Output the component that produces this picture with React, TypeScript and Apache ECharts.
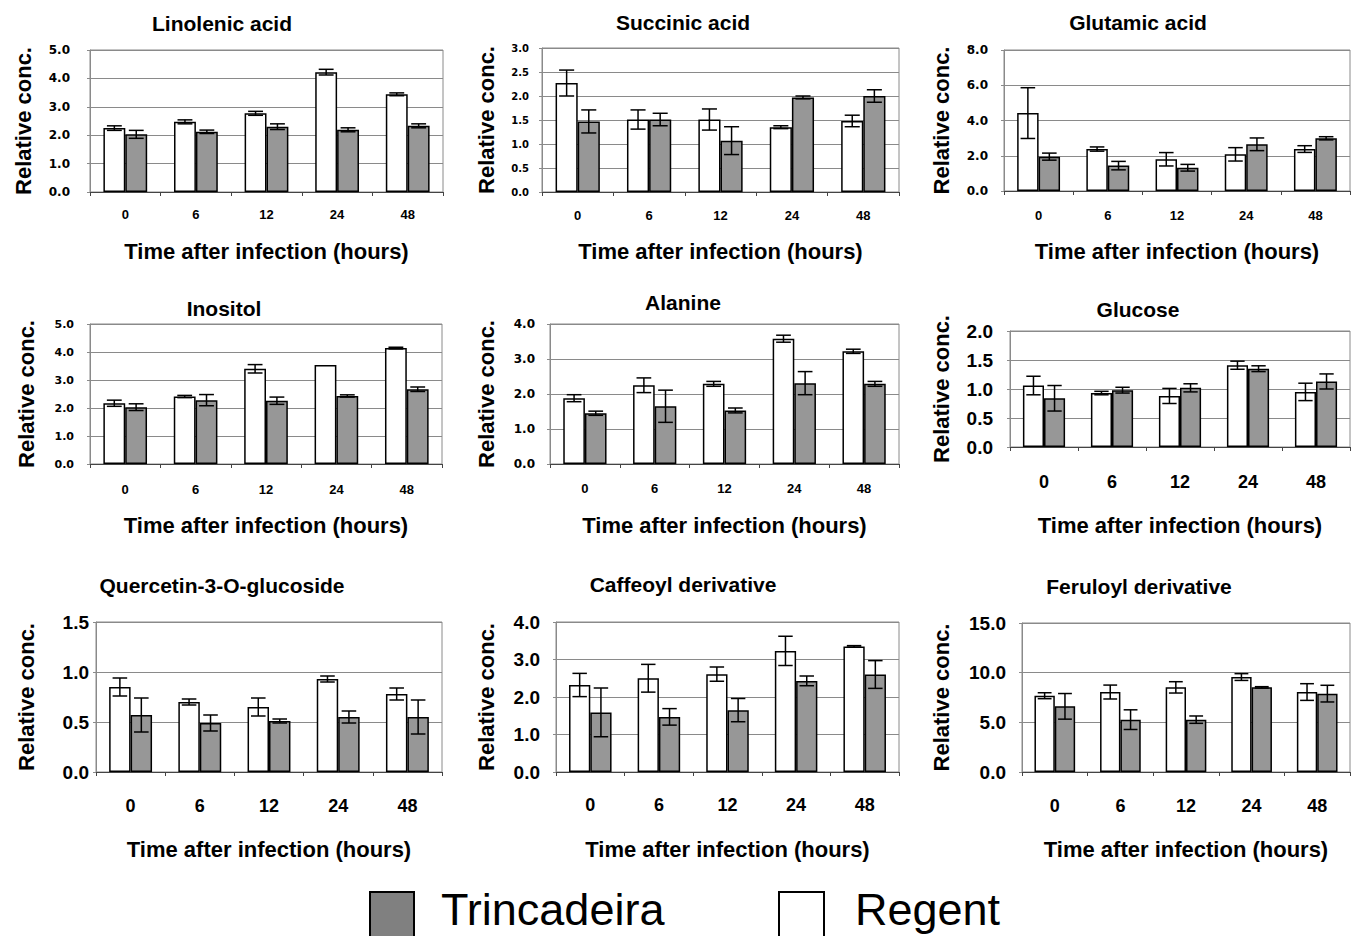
import React, { useEffect, useRef } from "react";
import * as echarts from "echarts";

// ---------- data ----------
const hours = ["0", "6", "12", "24", "48"];

const linolenicRegent = [2.25, 2.47, 2.77, 4.22, 3.44];
const linolenicRegentErr = [0.08, 0.07, 0.07, 0.1, 0.05];
const linolenicTrinc = [2.03, 2.12, 2.3, 2.19, 2.33];
const linolenicTrincErr = [0.14, 0.06, 0.1, 0.07, 0.07];

const succinicRegent = [2.27, 1.51, 1.51, 1.35, 1.48];
const succinicRegentErr = [0.27, 0.2, 0.22, 0.03, 0.12];
const succinicTrinc = [1.47, 1.51, 1.07, 1.97, 2.0];
const succinicTrincErr = [0.24, 0.13, 0.29, 0.03, 0.13];

const glutamicRegent = [4.42, 2.38, 1.8, 2.08, 2.38];
const glutamicRegentErr = [1.44, 0.12, 0.38, 0.38, 0.19];
const glutamicTrinc = [1.95, 1.44, 1.32, 2.65, 2.99];
const glutamicTrincErr = [0.2, 0.24, 0.19, 0.36, 0.09];

const inositolRegent = [2.17, 2.41, 3.4, 3.54, 4.14];
const inositolRegentErr = [0.11, 0.04, 0.15, 0, 0.03];
const inositolTrinc = [2.03, 2.28, 2.26, 2.43, 2.67];
const inositolTrincErr = [0.12, 0.2, 0.13, 0.04, 0.08];

const alanineRegent = [1.88, 2.25, 2.29, 3.58, 3.22];
const alanineRegentErr = [0.1, 0.21, 0.07, 0.1, 0.06];
const alanineTrinc = [1.45, 1.65, 1.53, 2.31, 2.29];
const alanineTrincErr = [0.06, 0.46, 0.07, 0.33, 0.07];

const glucoseRegent = [1.06, 0.93, 0.88, 1.41, 0.95];
const glucoseRegentErr = [0.16, 0.03, 0.13, 0.07, 0.15];
const glucoseTrinc = [0.84, 0.98, 1.02, 1.35, 1.13];
const glucoseTrincErr = [0.22, 0.05, 0.07, 0.05, 0.13];

const quercetinRegent = [0.85, 0.7, 0.65, 0.93, 0.78];
const quercetinRegentErr = [0.09, 0.03, 0.09, 0.03, 0.06];
const quercetinTrinc = [0.57, 0.49, 0.51, 0.55, 0.55];
const quercetinTrincErr = [0.17, 0.08, 0.02, 0.06, 0.17];

const caffeoylRegent = [2.32, 2.5, 2.61, 3.23, 3.35];
const caffeoylRegentErr = [0.31, 0.37, 0.19, 0.39, 0.02];
const caffeoylTrinc = [1.59, 1.47, 1.65, 2.43, 2.6];
const caffeoylTrincErr = [0.65, 0.22, 0.31, 0.13, 0.37];

const feruloylRegent = [7.68, 8.05, 8.52, 9.56, 8.05];
const feruloylRegentErr = [0.3, 0.7, 0.57, 0.34, 0.84];
const feruloylTrinc = [6.61, 5.27, 5.27, 8.52, 7.89];
const feruloylTrincErr = [1.29, 0.99, 0.37, 0.07, 0.84];

const titles = [
  "Linolenic acid",
  "Succinic acid",
  "Glutamic acid",
  "Inositol",
  "Alanine",
  "Glucose",
  "Quercetin-3-O-glucoside",
  "Caffeoyl derivative",
  "Feruloyl derivative",
];
const yMaxes = [5, 3, 8, 5, 4, 2, 1.5, 4, 15];
const yIntervals = [1, 0.5, 2, 1, 1, 0.5, 0.5, 1, 5];

const yAxisName = "Relative conc.";
const xAxisName = "Time after infection (hours)";
const regentName = "Regent";
const trincName = "Trincadeira";

const panelData = [
  [linolenicRegent, linolenicRegentErr, linolenicTrinc, linolenicTrincErr],
  [succinicRegent, succinicRegentErr, succinicTrinc, succinicTrincErr],
  [glutamicRegent, glutamicRegentErr, glutamicTrinc, glutamicTrincErr],
  [inositolRegent, inositolRegentErr, inositolTrinc, inositolTrincErr],
  [alanineRegent, alanineRegentErr, alanineTrinc, alanineTrincErr],
  [glucoseRegent, glucoseRegentErr, glucoseTrinc, glucoseTrincErr],
  [quercetinRegent, quercetinRegentErr, quercetinTrinc, quercetinTrincErr],
  [caffeoylRegent, caffeoylRegentErr, caffeoylTrinc, caffeoylTrincErr],
  [feruloylRegent, feruloylRegentErr, feruloylTrinc, feruloylTrincErr],
];

// ---------- layout / style ----------
const SANS = '"Liberation Sans", Arial, sans-serif';
const WIDE = '"DejaVu Sans", sans-serif';

const layout = [
  { left: 90, top: 50, width: 353, height: 142, tx: 222, ty: 23, yFs: 12, yFam: WIDE, yM: 20, xFs: 13, xM: 16, xNG: 48, yNG: 56 },
  { left: 542, top: 48, width: 357, height: 144, tx: 683, ty: 22, yFs: 10, yFam: WIDE, yM: 13, xFs: 13, xM: 17, xNG: 48, yNG: 45 },
  { left: 1004, top: 50, width: 346, height: 141, tx: 1138, ty: 22, yFs: 12, yFam: WIDE, yM: 16, xFs: 13, xM: 18, xNG: 49, yNG: 52 },
  { left: 90, top: 324, width: 352, height: 140, tx: 224, ty: 308, yFs: 11, yFam: WIDE, yM: 16, xFs: 13, xM: 19, xNG: 50, yNG: 53 },
  { left: 550, top: 324, width: 349, height: 140, tx: 683, ty: 302, yFs: 12, yFam: WIDE, yM: 15, xFs: 13, xM: 18, xNG: 50, yNG: 53 },
  { left: 1010, top: 331, width: 340, height: 116, tx: 1138, ty: 309, yFs: 19, yFam: SANS, yM: 17, xFs: 18, xM: 26, xNG: 67, yNG: 58 },
  { left: 96, top: 622, width: 346, height: 150, tx: 222, ty: 585, yFs: 19, yFam: SANS, yM: 7, xFs: 18, xM: 25, xNG: 66, yNG: 59 },
  { left: 556, top: 622, width: 343, height: 150, tx: 683, ty: 584, yFs: 19, yFam: SANS, yM: 16, xFs: 18, xM: 24, xNG: 66, yNG: 59 },
  { left: 1022, top: 623, width: 328, height: 149, tx: 1139, ty: 586, yFs: 19, yFam: SANS, yM: 16, xFs: 18, xM: 25, xNG: 66, yNG: 70 },
];

const BAR_GAP_FRAC = 0.38;
const GRAY = "#979797";
const GRID_GRAY = "#8a8a8a";

function errorSeries(i: number, means: number[], errs: number[], side: number) {
  return {
    type: "custom",
    xAxisIndex: i,
    yAxisIndex: i,
    z: 10,
    silent: true,
    encode: { x: 0, y: [1, 2] },
    data: means.map((m, k) => [k, m - errs[k], m + errs[k]]),
    renderItem: (_params: any, api: any) => {
      const k = api.value(0);
      const lo = api.value(1);
      const hi = api.value(2);
      if (hi - lo <= 0) return { type: "group", children: [] };
      const pLo = api.coord([k, lo]);
      const pHi = api.coord([k, hi]);
      const band = api.size([1, 0])[0];
      const bw = (band * (1 - BAR_GAP_FRAC)) / 2;
      const x = pLo[0] + (side * bw) / 2;
      const cap = bw * 0.34;
      const style = { stroke: "#000", lineWidth: 1.5 };
      return {
        type: "group",
        children: [
          { type: "line", shape: { x1: x, y1: pLo[1], x2: x, y2: pHi[1] }, style },
          { type: "line", shape: { x1: x - cap, y1: pHi[1], x2: x + cap, y2: pHi[1] }, style },
          { type: "line", shape: { x1: x - cap, y1: pLo[1], x2: x + cap, y2: pLo[1] }, style },
        ],
      };
    },
  };
}

function buildOption() {
  const grid: any[] = [];
  const xAxis: any[] = [];
  const yAxis: any[] = [];
  const series: any[] = [];
  const graphic: any[] = [];

  layout.forEach((L, i) => {
    grid.push({
      left: L.left,
      top: L.top,
      width: L.width,
      height: L.height,
      show: true,
      borderColor: GRID_GRAY,
      borderWidth: 1,
      backgroundColor: "transparent",
      containLabel: false,
      outerBoundsMode: "none",
    });
    xAxis.push({
      type: "category",
      gridIndex: i,
      data: hours,
      boundaryGap: true,
      name: xAxisName,
      nameLocation: "middle",
      nameGap: L.xNG,
      nameMoveOverlap: false,
      nameTextStyle: { fontFamily: SANS, fontWeight: "bold", fontSize: 22, color: "#000" },
      axisLine: { show: true, lineStyle: { color: "#444", width: 1 } },
      axisTick: { show: true, length: 4, alignWithLabel: false, lineStyle: { color: "#444" } },
      axisLabel: { fontFamily: SANS, fontWeight: "bold", fontSize: L.xFs, color: "#000", margin: L.xM },
      splitLine: { show: false },
    });
    yAxis.push({
      type: "value",
      gridIndex: i,
      min: 0,
      max: yMaxes[i],
      interval: yIntervals[i],
      name: yAxisName,
      nameLocation: "middle",
      nameRotate: 90,
      nameGap: L.yNG,
      nameMoveOverlap: false,
      nameTextStyle: { fontFamily: SANS, fontWeight: "bold", fontSize: 22, color: "#000" },
      axisLine: { show: true, lineStyle: { color: GRID_GRAY, width: 1 } },
      axisTick: { show: true, length: 3, lineStyle: { color: GRID_GRAY } },
      axisLabel: {
        fontFamily: L.yFam,
        fontWeight: "bold",
        fontSize: L.yFs,
        color: "#000",
        margin: L.yM,
        formatter: (v: number) => v.toFixed(1),
      },
      splitLine: { show: true, lineStyle: { color: GRID_GRAY, width: 1 } },
    });

    const [reg, regErr, tri, triErr] = panelData[i];
    series.push({
      type: "bar",
      name: regentName,
      xAxisIndex: i,
      yAxisIndex: i,
      data: reg,
      barGap: "0%",
      barCategoryGap: `${BAR_GAP_FRAC * 100}%`,
      itemStyle: { color: "#ffffff", borderColor: "#000", borderWidth: 1.5 },
      silent: true,
    });
    series.push({
      type: "bar",
      name: trincName,
      xAxisIndex: i,
      yAxisIndex: i,
      data: tri,
      barGap: "0%",
      barCategoryGap: `${BAR_GAP_FRAC * 100}%`,
      itemStyle: { color: GRAY, borderColor: "#000", borderWidth: 1.5 },
      silent: true,
    });
    series.push(errorSeries(i, reg, regErr, -1));
    series.push(errorSeries(i, tri, triErr, 1));

    graphic.push({
      type: "text",
      x: L.tx,
      y: L.ty,
      style: {
        text: titles[i],
        align: "center",
        verticalAlign: "middle",
        fontFamily: SANS,
        fontWeight: "bold",
        fontSize: 21,
        fill: "#000",
      },
    });
  });

  // legend
  graphic.push(
    { type: "rect", shape: { x: 370, y: 892, width: 44, height: 60 }, style: { fill: "#808080", stroke: "#000", lineWidth: 2 } },
    { type: "text", x: 441, y: 909, style: { text: trincName, verticalAlign: "middle", fontFamily: SANS, fontSize: 45, fill: "#000" } },
    { type: "rect", shape: { x: 779, y: 892, width: 45, height: 60 }, style: { fill: "#ffffff", stroke: "#000", lineWidth: 2 } },
    { type: "text", x: 855, y: 909, style: { text: regentName, verticalAlign: "middle", fontFamily: SANS, fontSize: 45, fill: "#000" } }
  );

  return {
    animation: false,
    backgroundColor: "#ffffff",
    grid,
    xAxis,
    yAxis,
    series,
    graphic,
  };
}

export default function App() {
  const ref = useRef<HTMLDivElement>(null);
  useEffect(() => {
    if (!ref.current) return;
    const chart = echarts.init(ref.current, undefined, { renderer: "svg" });
    chart.setOption(buildOption() as any);
    return () => chart.dispose();
  }, []);
  return (
    <div
      ref={ref}
      style={{ position: "fixed", left: 0, top: 0, width: 1351, height: 936, background: "#fff" }}
    />
  );
}
